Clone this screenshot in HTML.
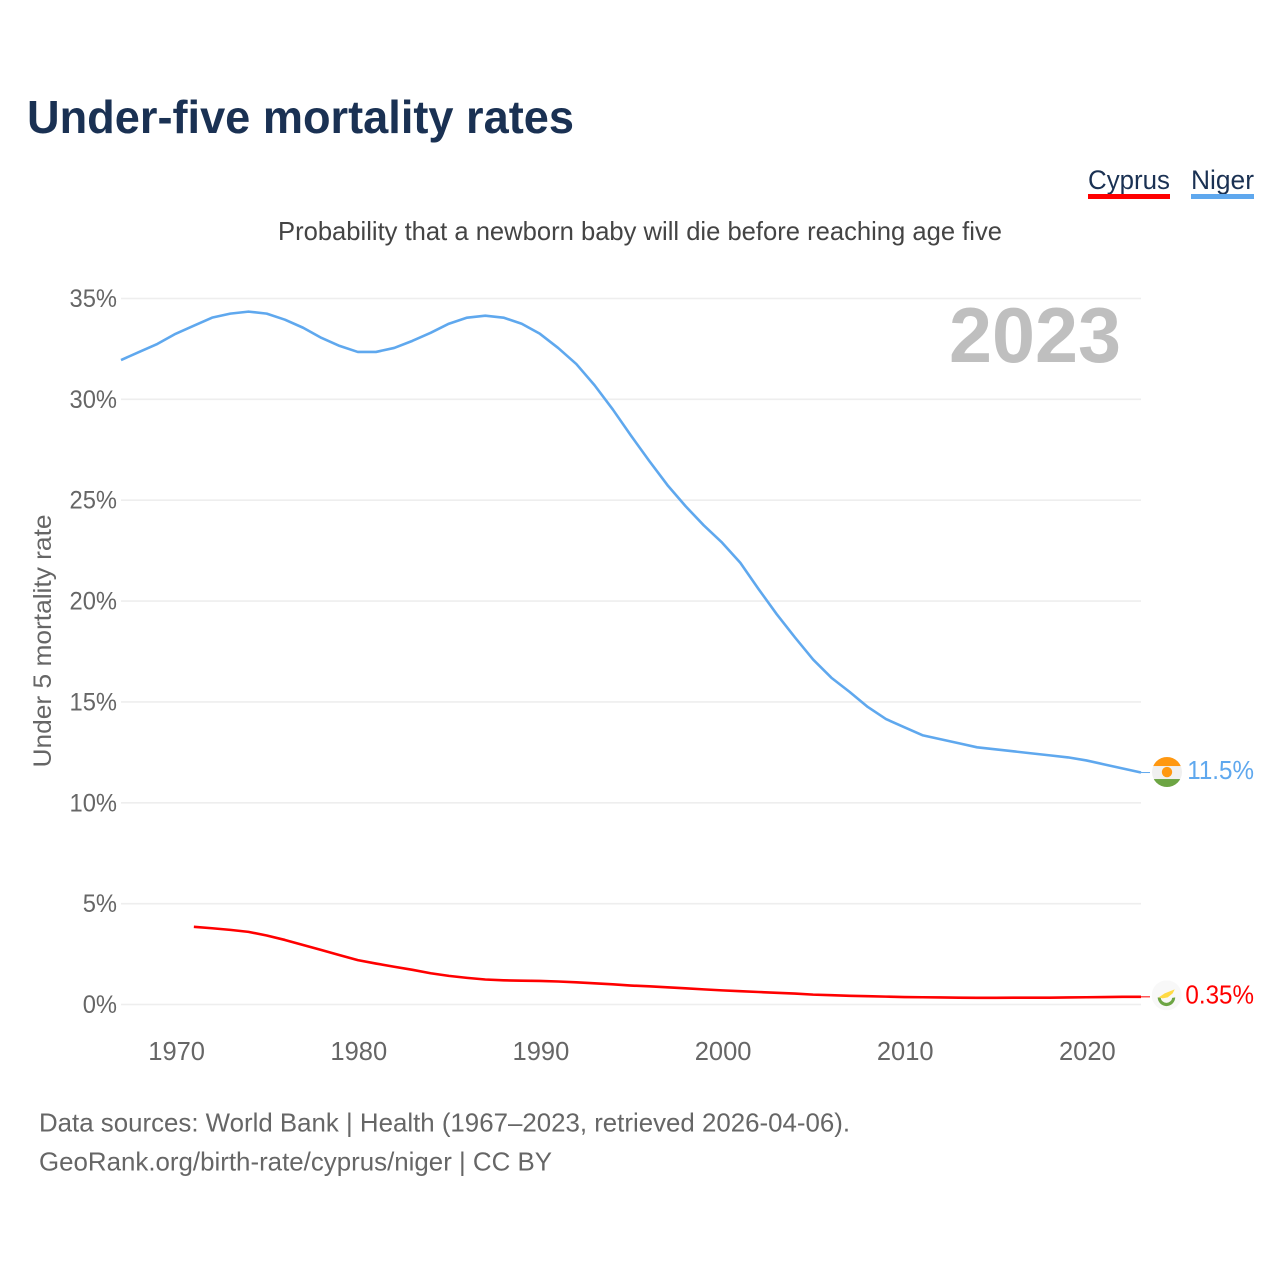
<!DOCTYPE html>
<html>
<head>
<meta charset="utf-8">
<title>Under-five mortality rates</title>
<style>
html,body{margin:0;padding:0;background:#fff;}
svg{display:block;font-family:"Liberation Sans",sans-serif;}
</style>
</head>
<body>
<svg id="chart" xmlns="http://www.w3.org/2000/svg" width="1280" height="1280" viewBox="0 0 1280 1280">
  <rect width="1280" height="1280" fill="#fff"/>
  <text x="27" y="133" font-size="46" font-weight="700" fill="#1a3153" textLength="547" lengthAdjust="spacingAndGlyphs">Under-five mortality rates</text>
  <g>
    <g>
      <text x="1088" y="189" font-size="27" fill="#1a3153" textLength="82" lengthAdjust="spacingAndGlyphs">Cyprus</text>
      <rect x="1088" y="194" width="82" height="5" fill="#ff0000"/>
    </g>
    <g>
      <text x="1191" y="189" font-size="27" fill="#1a3153" textLength="63" lengthAdjust="spacingAndGlyphs">Niger</text>
      <rect x="1191" y="194" width="63" height="5" fill="#5fa8ee"/>
    </g>
  </g>
  <text x="278" y="240" font-size="26" fill="#444" textLength="724" lengthAdjust="spacingAndGlyphs">Probability that a newborn baby will die before reaching age five</text>
  <text transform="translate(51,641) rotate(-90)" text-anchor="middle" font-size="25" fill="#666" textLength="253" lengthAdjust="spacingAndGlyphs">Under 5 mortality rate</text>
  <g id="grid"></g>
  <g id="yticks"></g>
  <g id="xticks"></g>
  <text x="949" y="362" font-size="78" font-weight="700" fill="#bfbfbf" textLength="172" lengthAdjust="spacingAndGlyphs">2023</text>
  <g id="series"></g>
  <defs>
    <clipPath id="flagClip"><circle cx="0" cy="0" r="15"/></clipPath>
  </defs>
  <g id="flagNiger">
    <g clip-path="url(#flagClip)">
      <rect x="-15" y="-15" width="30" height="30" fill="#f0f0f0"/>
      <rect x="-15" y="-15" width="30" height="9" fill="#ff9811"/>
      <rect x="-15" y="7" width="30" height="8" fill="#6da544"/>
      <circle r="5.2" fill="#ff9811"/>
    </g>
  </g>
  <g id="flagCyprus">
    <g clip-path="url(#flagClip)">
      <rect x="-15" y="-15" width="30" height="30" fill="#f8f8f8"/>
      <path d="M-8 2 L-2 -2 L8 -6 L6 -2 L1 2 L-4 3 Z" fill="#ffda44"/>
      <path d="M-9 2 A8.7 8.7 0 0 0 8.5 2 L5.5 2.5 A5.8 5.8 0 0 1 -6 2.5 Z" fill="#6da544"/>
    </g>
  </g>
  <text x="39" y="1131.5" font-size="26" fill="#666" textLength="811" lengthAdjust="spacingAndGlyphs">Data sources: World Bank | Health (1967–2023, retrieved 2026-04-06).</text>
  <text x="39" y="1170.5" font-size="26" fill="#666" textLength="513" lengthAdjust="spacingAndGlyphs">GeoRank.org/birth-rate/cyprus/niger | CC BY</text>
</svg>
<script>
const yTickValues = [0, 5, 10, 15, 20, 25, 30, 35];
const xTickYears = [1970, 1980, 1990, 2000, 2010, 2020];
const nigerStartYear = 1967;
const nigerValues = [31.95,32.35,32.75,33.25,33.65,34.05,34.25,34.35,34.25,33.95,33.55,33.05,32.65,32.35,32.35,32.55,32.9,33.3,33.75,34.05,34.15,34.05,33.75,33.25,32.55,31.75,30.7,29.5,28.2,26.95,25.75,24.7,23.75,22.9,21.9,20.6,19.35,18.2,17.1,16.2,15.5,14.75,14.15,13.75,13.35,13.15,12.95,12.75,12.65,12.55,12.45,12.35,12.25,12.1,11.9,11.7,11.5];
const cyprusStartYear = 1971;
const cyprusValues = [3.85,3.78,3.7,3.6,3.42,3.2,2.95,2.7,2.45,2.2,2.03,1.87,1.72,1.55,1.42,1.32,1.24,1.2,1.18,1.17,1.14,1.1,1.05,1.0,0.94,0.9,0.85,0.8,0.75,0.7,0.66,0.62,0.58,0.54,0.49,0.46,0.43,0.41,0.39,0.37,0.36,0.35,0.34,0.33,0.33,0.34,0.34,0.34,0.35,0.36,0.37,0.38,0.38];
const nigerLabel = "11.5%";
const cyprusLabel = "0.35%";

const NS = "http://www.w3.org/2000/svg";
const x = yr => 121 + (yr - 1967) * (1141 - 121) / 56;
const y = v => 1004.5 - v * (1004.5 - 298.5) / 35;
const lastOf = a => a[a.length - 1];

const grid = document.getElementById("grid");
const yticks = document.getElementById("yticks");
yTickValues.forEach(v => {
  const l = document.createElementNS(NS, "line");
  
  
  l.setAttribute("x1", 121); l.setAttribute("x2", 1141);
  l.setAttribute("y1", y(v)); l.setAttribute("y2", y(v));
  l.setAttribute("stroke", "#eeeeee"); l.setAttribute("stroke-width", 1.6);
  grid.appendChild(l);
  const t = document.createElementNS(NS, "text");
  
  
  t.setAttribute("x", 117); t.setAttribute("y", y(v) + 8.5);
  t.setAttribute("text-anchor", "end");
  t.setAttribute("font-size", 25); t.setAttribute("fill", "#666");
  t.textContent = v + "%";
  yticks.appendChild(t);
  t.setAttribute("lengthAdjust", "spacingAndGlyphs");
  t.setAttribute("textLength", (t.getComputedTextLength() * 0.95).toFixed(1));
});
const xticks = document.getElementById("xticks");
xTickYears.forEach(yr => {
  const t = document.createElementNS(NS, "text");
  
  
  t.setAttribute("x", x(yr) + 1); t.setAttribute("y", 1060);
  t.setAttribute("text-anchor", "middle");
  t.setAttribute("font-size", 25.5); t.setAttribute("fill", "#666");
  t.textContent = yr;
  xticks.appendChild(t);
});

const seriesG = document.getElementById("series");
function drawLine(values, startYear, color, name) {
  const p = document.createElementNS(NS, "path");
  
  
  const d = values.map((v, i) => (i ? "L" : "M") + x(startYear + i).toFixed(2) + " " + y(v).toFixed(2)).join(" ");
  p.setAttribute("d", d);
  p.setAttribute("fill", "none");
  p.setAttribute("stroke", color);
  p.setAttribute("stroke-width", 2.6);
  p.setAttribute("stroke-linejoin", "round");
  seriesG.appendChild(p);
}
function drawConnector(v, color, name) {
  const l = document.createElementNS(NS, "line");
  
  
  l.setAttribute("x1", 1141); l.setAttribute("x2", 1150);
  l.setAttribute("y1", y(v)); l.setAttribute("y2", y(v));
  l.setAttribute("stroke", color); l.setAttribute("stroke-width", 1);
  seriesG.appendChild(l);
}
function drawLabel(text, v, dy, color, name) {
  const t = document.createElementNS(NS, "text");
  
  
  t.setAttribute("x", 1254); t.setAttribute("y", y(v) + dy);
  t.setAttribute("text-anchor", "end");
  t.setAttribute("font-size", 26); t.setAttribute("fill", color);
  t.textContent = text;
  seriesG.appendChild(t);
  t.setAttribute("lengthAdjust", "spacingAndGlyphs");
  t.setAttribute("textLength", (t.getComputedTextLength() * 0.93).toFixed(1));
}
drawLine(nigerValues, nigerStartYear, "#5fa8ee", "niger-line");
drawLine(cyprusValues, cyprusStartYear, "#ff0000", "cyprus-line");
drawConnector(lastOf(nigerValues), "#5fa8ee", "niger-connector");
drawConnector(lastOf(cyprusValues), "#ff0000", "cyprus-connector");
drawLabel(nigerLabel, lastOf(nigerValues), 6.5, "#5fa8ee", "niger-end-label");
drawLabel(cyprusLabel, lastOf(cyprusValues), 6.5, "#ff0000", "cyprus-end-label");
document.getElementById("flagNiger").setAttribute("transform", "translate(1167," + (y(lastOf(nigerValues)) - 0.5) + ")");
document.getElementById("flagCyprus").setAttribute("transform", "translate(1166.7," + (y(lastOf(cyprusValues)) - 1.5) + ")");
</script>
</body>
</html>
